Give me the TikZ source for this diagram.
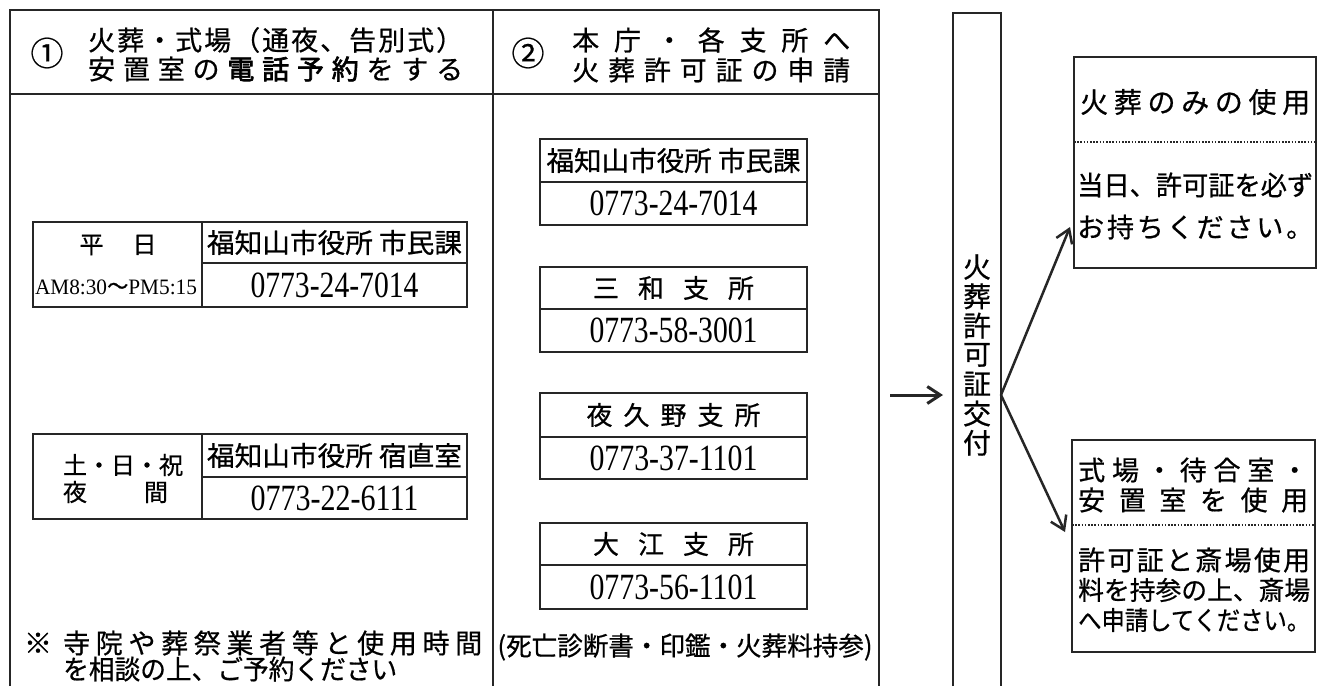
\documentclass[tikz,border=0pt]{standalone}
\usepackage{fontspec}
\usepackage{graphicx}
\setmainfont{Liberation Serif}
\newfontfamily\jp[FakeBold=0.6,AutoFakeBold=2.5]{Noto Sans CJK JP}
\usetikzlibrary{arrows.meta}
\makeatletter
\newcommand\spreadto[3]{{\fontsize{#2}{#2}\selectfont\makebox[#1pt][s]{\let\sp@sep\relax\@tfor\sp@t:=#3\do{\sp@sep\sp@t\let\sp@sep\hfil}}}}
\makeatother
\newcommand\fitto[3]{\resizebox{#1pt}{\height}{\fontsize{#2}{#2}\selectfont #3}}
\begin{document}
\begin{tikzpicture}[x=1pt,y=-1pt,
  frame/.style={draw=black!85,line width=2pt},
  cell/.style={draw=black!85,line width=1.8pt,inner sep=0pt,font=\jp},
  phone/.style={cell,font=\rmfamily},
  tx/.style={font=\jp,inner sep=0pt},
  txw/.style={tx,anchor=west},
  dots/.style={draw=black!85,line width=1.6pt,dash pattern=on 1.6pt off 1.6pt},
  arr/.style={draw=black!85,line width=2.5pt,-{Straight Barb[length=13pt,width=17pt]}}]
\useasboundingbox (0,0) rectangle (1319,686);
\fill[white] (0,0) rectangle (1319,686);
% frame of the two columns
\draw[frame] (10,686) -- (10,10) -- (879,10) -- (879,686);
\draw[frame] (10,94) -- (879,94);
\draw[frame] (493,10) -- (493,686);
% header 1
\node[tx,font={\jp\fontsize{33}{33}\selectfont}] (c1) at (47,53) {①};
\node[txw] (h1a) at (88,40) {\spreadto{375}{27}{火葬・式場（通夜、告別式）}};
\node[txw] (h1b) at (88,69) {\spreadto{375}{27}{安置室の{{\bfseries 電}}{{\bfseries 話}}{{\bfseries 予}}{{\bfseries 約}}をする}};
% header 2
\node[tx,font={\jp\fontsize{33}{33}\selectfont}] (c2) at (528,53) {②};
\node[txw] (h2a) at (572,40) {\spreadto{278}{27}{本庁・各支所へ}};
\node[txw] (h2b) at (572,70) {\spreadto{278}{27}{火葬許可証の申請}};
% table 1
\node[cell,minimum width=169pt,minimum height=85pt] (t1L) at (117.5,264.5) {};
\node[tx] (t1d) at (118,245) {\spreadto{77}{24}{平日}};
\node[tx,font=\rmfamily] (t1h) at (116,287) {\fitto{162}{22}{AM8:30{\jp ～}PM5:15}};
\node[cell,minimum width=265pt,minimum height=41pt] (t1R1) at (334.5,242.5) {\fitto{255}{27}{福知山市役所 市民課}};
\node[phone,minimum width=265pt,minimum height=44pt] (t1R2) at (334.5,285) {\fitto{168}{37}{0773-24-7014}};
% table 2
\node[cell,minimum width=169pt,minimum height=85pt] (t2L) at (117.5,476.5) {};
\node[tx] (t2a) at (115.5,465) {\spreadto{105}{24}{土・日・祝}};
\node[tx] (t2b) at (115.5,492) {\spreadto{105}{24}{夜間}};
\node[cell,minimum width=265pt,minimum height=43pt] (t2R1) at (334.5,455.5) {\fitto{255}{27}{福知山市役所 宿直室}};
\node[phone,minimum width=265pt,minimum height=42pt] (t2R2) at (334.5,498) {\fitto{168}{37}{0773-22-6111}};
% note
\node[tx,font={\jp\fontsize{28}{28}\selectfont}] (nm) at (38,643) {※};
\node[txw] (na) at (63,643) {\spreadto{419}{27}{寺院や葬祭業者等と使用時間}};
\node[txw] (nb) at (63,669) {\fitto{334}{27}{を相談の上、ご予約ください}};
% column 2 boxes
\node[cell,minimum width=267pt,minimum height=43pt] (bA1) at (673.5,160.5) {\fitto{254}{27}{福知山市役所 市民課}};
\node[phone,minimum width=267pt,minimum height=43pt] (bA2) at (673.5,203.5) {\fitto{168}{37}{0773-24-7014}};
\node[cell,minimum width=267pt,minimum height=42pt] (bB1) at (673.5,288) {\spreadto{161}{26}{三和支所}};
\node[phone,minimum width=267pt,minimum height=43pt] (bB2) at (673.5,330.5) {\fitto{168}{37}{0773-58-3001}};
\node[cell,minimum width=267pt,minimum height=44pt] (bC1) at (673.5,415) {\spreadto{174}{26}{夜久野支所}};
\node[phone,minimum width=267pt,minimum height=42pt] (bC2) at (673.5,458) {\fitto{168}{37}{0773-37-1101}};
\node[cell,minimum width=267pt,minimum height=42pt] (bD1) at (673.5,544) {\spreadto{161}{26}{大江支所}};
\node[phone,minimum width=267pt,minimum height=44pt] (bD2) at (673.5,587) {\fitto{168}{37}{0773-56-1101}};
\node[tx] (bring) at (685,647) {\fitto{375}{26}{(死亡診断書・印鑑・火葬料持参)}};
% tall box
\draw[frame] (953,686) -- (953,13) -- (1001,13) -- (1001,686);
\foreach \c [count=\i] in {火,葬,許,可,証,交,付}
  \node[tx,font={\jp\fontsize{28}{28}\selectfont}] (v\i) at (977,{237.7+29.3*\i}) {\c};
\coordinate (la) at (890,395);
\coordinate (lb) at (943,395);
\draw[arr,line width=3pt] (la) -- (lb);
% right box 1
\node[cell,minimum width=242pt,minimum height=211pt] (rb1) at (1195,162.5) {};
\draw[dots] (1074,142) -- (1316,142);
\node[txw] (r1a) at (1080,102) {\spreadto{230}{28}{火葬のみの使用}};
\node[txw] (r1b) at (1077,185) {\fitto{236}{27}{当日、許可証を必ず}};
\node[txw] (r1c) at (1077,227) {\spreadto{236}{27}{お持ちください。}};
% right box 2
\node[cell,minimum width=243pt,minimum height=212pt] (rb2) at (1193.5,546) {};
\draw[dots] (1072,525) -- (1315,525);
\node[txw] (r2a) at (1078,470) {\spreadto{230}{27}{式場・待合室・}};
\node[txw] (r2b) at (1078,500) {\spreadto{230}{27}{安置室を使用}};
\node[txw] (r2c) at (1078,560) {\spreadto{232}{27}{許可証と斎場使用}};
\node[txw] (r2d) at (1078,590) {\fitto{232}{26}{料を持参の上、斎場}};
\node[txw] (r2e) at (1078,620) {\fitto{232}{26}{へ申請してください。}};
% branch arrows
\coordinate (br) at (1001,395);
\coordinate (e1) at (1070,227);
\coordinate (e2) at (1065,532);
\draw[arr] (br) -- (e1);
\draw[arr] (br) -- (e2);
\end{tikzpicture}
\end{document}
